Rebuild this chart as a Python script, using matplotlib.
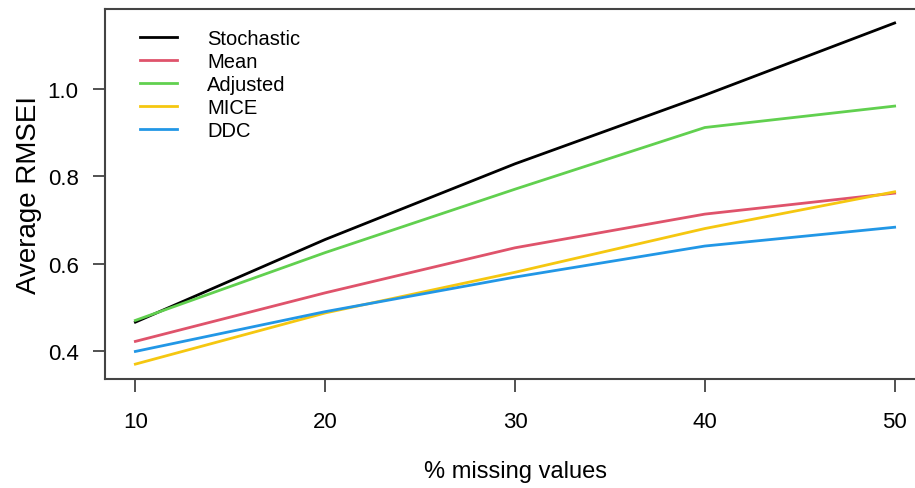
import matplotlib.pyplot as plt

plt.rcParams['font.family'] = ['Liberation Sans', 'DejaVu Sans']

missing = [10, 20, 30, 40, 50]
stochastic = [0.466, 0.655, 0.828, 0.985, 1.150]
mean_imp = [0.422, 0.533, 0.636, 0.713, 0.761]
adjusted = [0.470, 0.625, 0.770, 0.911, 0.960]
mice = [0.370, 0.487, 0.580, 0.680, 0.764]
ddc = [0.399, 0.490, 0.569, 0.640, 0.683]

names = ['Stochastic', 'Mean', 'Adjusted', 'MICE', 'DDC']
colors = ['black', '#DF536B', '#61D04F', '#F5C710', '#2297E6']
series = [stochastic, mean_imp, adjusted, mice, ddc]

fig = plt.figure(figsize=(9.15, 4.89), dpi=100)
ax = fig.add_axes([105/915, 1 - 380/489, 820/915, 370/489])

for vals, c, n in zip(series, colors, names):
    ax.plot(missing, vals, color=c, lw=2, label=n)

ax.set_xlim(8.4, 51.6)
ax.set_ylim(0.336, 1.182)
ax.set_xticks([10, 20, 30, 40, 50])
ax.set_yticks([0.4, 0.6, 0.8, 1.0])
ax.set_yticklabels(['0.4', '0.6', '0.8', '1.0'])
ax.tick_params(direction='out', length=9, width=1.2, color='#333333',
               labelsize=16)
ax.tick_params(axis='x', pad=14)
ax.tick_params(axis='y', pad=10)
for s in ax.spines.values():
    s.set_color('#444444')
    s.set_linewidth(1.5)

ax.set_xlabel('% missing values', fontsize=17, labelpad=20)
ax.set_ylabel('Average RMSEI', fontsize=20, labelpad=4)

ax.legend(loc='upper left', bbox_to_anchor=(0.02, 0.995), frameon=False,
          fontsize=14.5, handlelength=1.85, handletextpad=1.5,
          labelspacing=0.2)

fig.savefig('out.png', dpi=100)
